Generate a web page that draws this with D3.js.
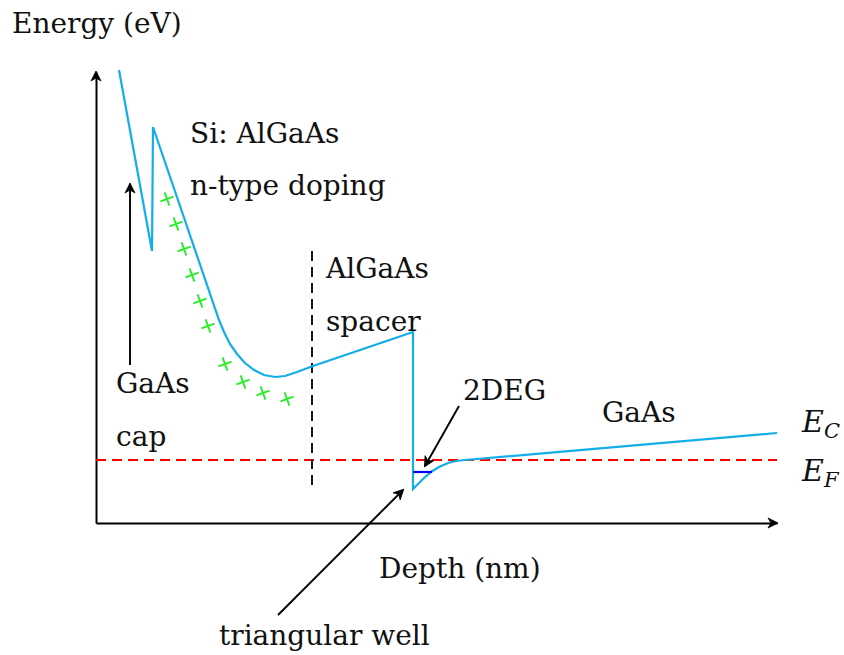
<!DOCTYPE html>
<html>
<head>
<meta charset="utf-8">
<script src="https://cdn.jsdelivr.net/npm/d3@7"></script>
<style>
  body { margin: 0; background: #fff; }
  svg text { font-family: "DejaVu Serif", serif; font-size: 28px; fill: #111; }
</style>
</head>
<body>
<div id="chart"></div>
<script>
// conduction band (depth, energy) in drawing units
const cbDepth  = [0.23, 0.56, 0.57, 1.23, 1.28, 1.34, 1.41, 1.49, 1.58, 1.68, 1.79, 1.89, 2.01, 2.17, 3.17, 3.17, 3.22, 3.28, 3.35, 3.43, 3.52, 3.60, 3.69, 6.81];
const cbEnergy = [4.53, 2.72, 3.96, 2.03, 1.91, 1.79, 1.69, 1.60, 1.53, 1.48, 1.46, 1.47, 1.51, 1.57, 1.91, 0.34, 0.39, 0.45, 0.51, 0.56, 0.60, 0.62, 0.63, 0.90];

const fermiLevel = 0.63;
const fermiRange = [0, 6.81];
const degLevel = 0.51;
const degRange = [3.17, 3.36];
const spacerEdge = 2.16;
const spacerRange = [0.38, 2.73];

// ionised donors
const dopantDepth  = [0.71, 0.80, 0.88, 0.96, 1.04, 1.12, 1.29, 1.47, 1.67, 1.91];
const dopantEnergy = [3.24, 2.99, 2.74, 2.48, 2.22, 1.97, 1.59, 1.41, 1.30, 1.24];

const labelText = ['Energy (eV)', 'Si: AlGaAs', 'n-type doping', 'AlGaAs', 'spacer', 'GaAs', 'cap', '2DEG', 'GaAs', 'Depth (nm)', 'triangular well'];
const labelX    = [-0.84, 0.94, 0.94, 2.30, 2.30, 0.20, 0.20, 3.67, 5.06, 2.83, 1.23];
const labelY    = [4.90, 3.80, 3.28, 2.45, 1.92, 1.30, 0.77, 1.23, 1.01, -0.55, -1.22];

// annotation arrows: [fromX, fromY, toX, toY]
const pointers = [
  [0.34, 1.58, 0.34, 3.39],
  [3.63, 1.17, 3.29, 0.57],
  [1.82, -0.92, 3.07, 0.33]
];

const W = 844, H = 655;
const x = d3.scaleLinear().domain([0, 6.81]).range([96, 777]);
const y = d3.scaleLinear().domain([0, 4.51]).range([523, 72]);

const svg = d3.select('#chart').append('svg')
  .attr('width', W)
  .attr('height', H);

function arrowHead(g, x1, y1, x2, y2) {
  const a = Math.atan2(y2 - y1, x2 - x1) * 180 / Math.PI;
  g.append('path')
    .attr('d', 'M1,0 L-9,-5 L-6,0 L-9,5 Z')
    .attr('transform', `translate(${x2},${y2}) rotate(${a})`)
    .attr('fill', '#000')
    .attr('stroke', '#000')
    .attr('stroke-width', 0.8)
    .attr('stroke-linejoin', 'round');
}

// axes
const axes = svg.append('g');
axes.append('g')
  .attr('transform', `translate(0,${y(0)})`)
  .call(d3.axisBottom(x).ticks(0).tickSizeOuter(0))
  .select('.domain').attr('stroke-width', 2);
axes.append('g')
  .attr('transform', `translate(${x(0)},0)`)
  .call(d3.axisLeft(y).ticks(0).tickSizeOuter(0))
  .select('.domain').attr('stroke-width', 2);
arrowHead(axes, x(0), y(0), x(6.81), y(0));
arrowHead(axes, x(0), y(0), x(0), y(4.51));

// fermi level
svg.append('line')
  .attr('x1', x(fermiRange[0])).attr('x2', x(fermiRange[1]))
  .attr('y1', y(fermiLevel)).attr('y2', y(fermiLevel))
  .attr('stroke', '#ff0000')
  .attr('stroke-width', 1.8)
  .attr('stroke-dasharray', '10,6');

// spacer boundary
svg.append('line')
  .attr('x1', x(spacerEdge)).attr('x2', x(spacerEdge))
  .attr('y1', y(spacerRange[0])).attr('y2', y(spacerRange[1]))
  .attr('stroke', '#000')
  .attr('stroke-width', 1.8)
  .attr('stroke-dasharray', '10,6');

// conduction band
const cb = cbDepth.map((d, i) => [d, cbEnergy[i]]);
svg.append('path')
  .datum(cb)
  .attr('d', d3.line().x(d => x(d[0])).y(d => y(d[1])))
  .attr('fill', 'none')
  .attr('stroke', '#13aee8')
  .attr('stroke-width', 2.2)
  .attr('stroke-linejoin', 'miter');

// 2DEG subband
svg.append('line')
  .attr('x1', x(degRange[0])).attr('x2', x(degRange[1]))
  .attr('y1', y(degLevel)).attr('y2', y(degLevel))
  .attr('stroke', '#0000ee')
  .attr('stroke-width', 2.2);

// donors
svg.selectAll('.plus')
  .data(dopantDepth.map((d, i) => [d, dopantEnergy[i]]))
  .enter().append('path')
  .attr('class', 'plus')
  .attr('d', 'M-7,0 H7 M0,-7 V7')
  .attr('transform', d => `translate(${x(d[0])},${y(d[1])}) rotate(-20)`)
  .attr('stroke', '#22ee22')
  .attr('stroke-width', 1.8)
  .attr('fill', 'none');

// pointers
const pg = svg.append('g');
pointers.forEach(p => {
  pg.append('line')
    .attr('x1', x(p[0])).attr('y1', y(p[1]))
    .attr('x2', x(p[2])).attr('y2', y(p[3]))
    .attr('stroke', '#000')
    .attr('stroke-width', 1.9);
  arrowHead(pg, x(p[0]), y(p[1]), x(p[2]), y(p[3]));
});

// labels
svg.selectAll('.lab')
  .data(labelText)
  .enter().append('text')
  .attr('class', 'lab')
  .attr('x', (d, i) => x(labelX[i]))
  .attr('y', (d, i) => y(labelY[i]))
  .text(d => d);

// band edge symbols
const sym = [['C', 0.91], ['F', 0.42]];
sym.forEach(s => {
  const t = svg.append('text')
    .attr('x', x(7.06))
    .attr('y', y(s[1]))
    .style('font-style', 'italic')
    .style('font-size', '30px');
  t.append('tspan').text('E');
  t.append('tspan')
    .attr('dy', 6)
    .style('font-size', '21px')
    .text(s[0]);
});
</script>
</body>
</html>
